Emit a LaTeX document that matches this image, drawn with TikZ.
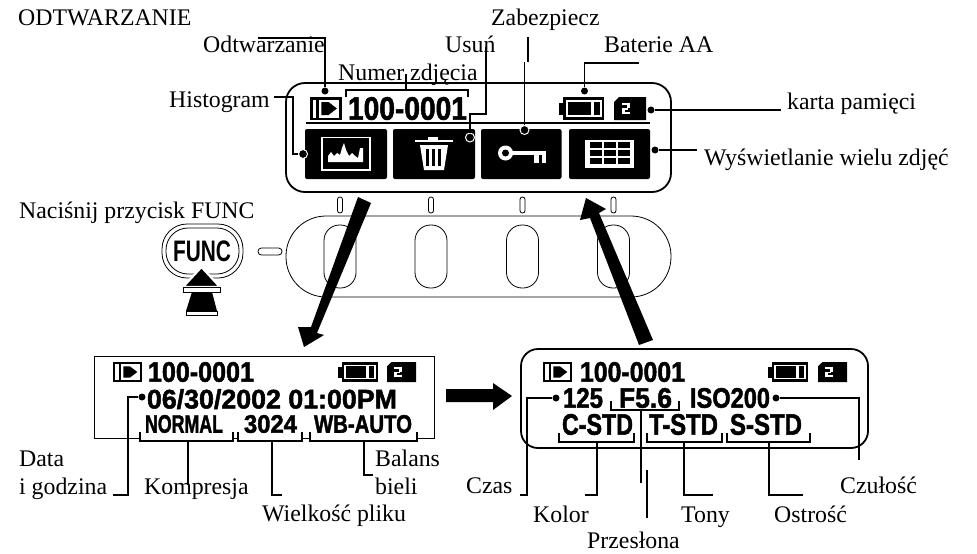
\documentclass[tikz,border=0pt]{standalone}
\usepackage{fontspec}
\usepackage{graphicx}
\setmainfont{Liberation Serif}
\newfontfamily\lcdf{Liberation Sans}[BoldFeatures={FakeBold=1.8}]
\newfontfamily\funcf{Liberation Sans}
\tikzset{
  lbl/.style={inner sep=0pt,anchor=base west,font=\fontsize{23.8}{26}\selectfont},
  dotb/.style={circle,fill=black,inner sep=0pt,minimum size=7pt},
  dotw/.style={circle,fill=black,draw=white,line width=1pt,inner sep=0pt,minimum size=9pt},
  conn/.style={line width=1.2pt,black},
  panel/.style={draw=black,line width=1.8pt},
  thinp/.style={draw=black,line width=0.8pt},
  bigarrow/.style={fill=black,draw=none},
  lcdn/.style={inner sep=0pt}
}
% name, x1, x2, y1, y2, text
\newcommand{\lcdtxt}[6]{%
  \pgfmathsetmacro{\lw}{#3-#2}\pgfmathsetmacro{\lh}{#5-#4}%
  \node[lcdn] (#1) at ({(#2+#3)/2},{(#4+#5)/2}) {\resizebox*{\lw pt}{\lh pt}{\lcdf\bfseries #6}};}
\newcommand{\playicon}[4]{%
  \begin{scope}[shift={(#1,#2)},xscale=#3/31,yscale=#4/23]
    \fill[black] (0,0) rectangle (31,23);
    \fill[white] (2.5,2.5) rectangle (28.5,20.5);
    \fill[black] (6,2) rectangle (9,21);
    \fill[black] (11,5) -- (18,5) -- (26,11.5) -- (18,18) -- (11,18) -- cycle;
  \end{scope}}
\newcommand{\batteryicon}[4]{%
  \begin{scope}[shift={(#1,#2)},xscale=#3/45,yscale=#4/23]
    \fill[black] (0,6) rectangle (5,18);
    \fill[black] (4,0) rectangle (45,23);
    \fill[white] (7,3) rectangle (43,20);
    \fill[black] (9,5) rectangle (32,18);
    \fill[black] (35,5) rectangle (41,18);
  \end{scope}}
\newcommand{\cardicon}[4]{%
  \begin{scope}[shift={(#1,#2)},xscale=#3/32,yscale=#4/23]
    \fill[black] (5,0) -- (32,0) -- (32,23) -- (0,23) -- (0,5) -- cycle;
    \fill[white] (8,6) rectangle (16,8);
    \fill[white] (13,8) rectangle (16,11);
    \fill[white] (8,11) rectangle (14,13);
    \fill[white] (8,13) rectangle (11,17);
    \fill[white] (11,15) rectangle (16,17);
  \end{scope}}
\begin{document}
\begin{tikzpicture}[x=1pt,y=-1pt]
\useasboundingbox (0,0) rectangle (977,554);
\fill[white] (0,0) rectangle (977,554);
% ---------- top display
\draw[panel,rounded corners=19pt] (286,83) rectangle (671,192);
\draw[line width=1.8pt] (306,123) -- (650,123);
\playicon{310}{97}{32}{23}
\lcdtxt{tn}{348}{467}{97}{120}{100-0001}
\batteryicon{559}{97}{45}{23}
\cardicon{614}{97}{32}{23}
\foreach \xa/\xb in {305/387,393/475,481/561.5,569/650}
  \fill[black,rounded corners=2pt] (\xa,129) rectangle (\xb,179);
% histogram icon
\draw[white,line width=1.3pt] (322,137.5) rectangle (370,170);
\fill[white] (328,162) -- (328,156) -- (331,152) -- (334,156) -- (337,153) -- (340,155) -- (342,148) -- (344,143) -- (346,150) -- (349,156) -- (352,153) -- (355,156) -- (358,158) -- (360,148) -- (363,148) -- (363,162) -- cycle;
% trash icon
\fill[white] (415,140) rectangle (453,142);
\fill[white] (428,137) rectangle (438,140);
\fill[white] (420,145) -- (448,145) -- (444,170) -- (424,170) -- cycle;
\foreach \x in {426,432,438} \fill[black] (\x,149) -- (\x+2.5,149) -- (\x+2.5,166) -- (\x,166) -- cycle;
% key icon
\fill[white] (505.5,153) circle (7.5);
\fill[black] (505.5,153) circle (3.5);
\fill[white] (510,151) rectangle (546,155);
\fill[white] (534,155) rectangle (539,163);
\fill[white] (542,155) rectangle (546,163);
% grid icon
\fill[white] (585,139.5) rectangle (634,168);
\foreach \xa in {590,604,618} \foreach \ya in {142,150,158}
  \fill[black] (\xa,\ya) rectangle (\xa+12,\ya+6);
% ---------- buttons
\draw[thinp,rounded corners=40pt] (286,216) rectangle (671,297);
\foreach \x in {340,431,522.5,613.5}{
  \draw[thinp,rounded corners=2.4pt] (\x-2.5,197) rectangle (\x+2.5,213);
  \draw[thinp,rounded corners=15.5pt] (\x-16,225) rectangle (\x+16,288);
}
\draw[thinp,rounded corners=3.4pt] (258,248) rectangle (282,255);
\node[thinp,rounded corners=25pt,minimum width=81pt,minimum height=54pt,inner sep=0pt] (fo) at (202.5,251) {};
\node[thinp,rounded corners=22pt,minimum width=73pt,minimum height=46pt,inner sep=0pt] (fi) at (202.5,251) {};
\node[inner sep=0pt] (ft) at (202,251.5) {\resizebox*{58pt}{21pt}{\funcf\bfseries FUNC}};
% FUNC arrow
\draw[white,line width=2.2pt,fill=black] (201.5,267) -- (220,287) -- (183,287) -- cycle;
\draw[thinp,fill=white] (183,287.5) rectangle (220,292);
\fill[black] (192,292) -- (212,292) -- (217,311) -- (186,311) -- cycle;
\draw[thinp,fill=white] (186,311) rectangle (217,315);
% ---------- big arrows
\fill[bigarrow] (358,197) -- (371,203) -- (317,333) -- (324,335) -- (304,347) -- (298,327) -- (311,327) -- cycle;
\fill[bigarrow] (586,198) -- (606,209) -- (599,213) -- (653,340) -- (639,345) -- (590,218) -- (580,220) -- cycle;
\fill[bigarrow] (446,389) -- (493,389) -- (493,383) -- (512,396) -- (493,410) -- (493,402) -- (446,402) -- cycle;
% ---------- left panel
\draw[thinp,line width=0.9pt] (94,438) -- (94,356) -- (434,356) -- (434,438) -- (417,438);
\draw[thinp,line width=0.9pt] (94,438) -- (140,438) (233,438) -- (238,438) (302,438) -- (310,438);
\playicon{113}{362}{29}{20}
\lcdtxt{ln}{148}{254}{362}{382}{100-0001}
\batteryicon{338}{362}{40}{20}
\cardicon{387}{362}{29}{20}
\lcdtxt{ld}{147}{397}{389}{409}{06/30/2002 01:00PM}
\lcdtxt{lq}{145}{223}{415}{433}{NORMAL}
\lcdtxt{ls}{244}{297}{415}{433}{3024}
\lcdtxt{lw}{314}{412}{415}{433}{WB-AUTO}
% ---------- right panel
\draw[panel,rounded corners=17pt] (521,349) rectangle (868,448);
\playicon{543}{362}{29}{20}
\lcdtxt{rn}{580}{685}{362}{382}{100-0001}
\batteryicon{768}{362}{40}{20}
\cardicon{818}{362}{29}{20}
\lcdtxt{rt}{563}{603}{388}{408}{125}
\lcdtxt{rf}{619}{672}{388}{408}{F5.6}
\lcdtxt{ri}{690}{770}{388}{408}{ISO200}
\lcdtxt{rc}{562}{633}{414}{435}{C-STD}
\lcdtxt{rg}{649}{718}{414}{435}{T-STD}
\lcdtxt{rs}{730}{802}{414}{435}{S-STD}
% ---------- text
\node[lbl] (title) at (18,25) {ODTWARZANIE};
\node[lbl] (t1) at (203,52) {Odtwarzanie};
\node[lbl] (t2) at (338,80) {Numer zdjęcia};
\node[lbl] (t3) at (445,52) {Usuń};
\node[lbl] (t4) at (491,25) {Zabezpiecz};
\node[lbl] (t5) at (604,52) {Baterie AA};
\node[lbl] (t6) at (787,109) {karta pamięci};
\node[lbl] (t7) at (704,165) {Wyświetlanie wielu zdjęć};
\node[lbl] (t8) at (169,107) {Histogram};
\node[lbl] (t9) at (19,218) {Naciśnij przycisk FUNC};
\node[lbl] (b1) at (19,466) {Data};
\node[lbl] (b2) at (19,494) {i godzina};
\node[lbl] (b3) at (144,494) {Kompresja};
\node[lbl] (b4) at (262,521) {Wielkość pliku};
\node[lbl] (b5) at (375,466) {Balans};
\node[lbl] (b6) at (375,494) {bieli};
\node[lbl] (c1) at (466,493) {Czas};
\node[lbl] (c2) at (533,522) {Kolor};
\node[lbl] (c3) at (681,522) {Tony};
\node[lbl] (c4) at (774,522) {Ostrość};
\node[lbl] (c5) at (840,493) {Czułość};
\node[lbl] (c6) at (587,548) {Przesłona};
% ---------- connectors, top
\node[dotb] (d1) at (325,91) {};
\coordinate (e1) at (258,38);
\draw[conn] (e1) -| (d1);
\coordinate (k1) at (346,97); \coordinate (k2) at (346,90); \coordinate (k3) at (468,90); \coordinate (k4) at (468,97);
\coordinate (k5) at (406,90); \coordinate (k6) at (406,74);
\draw[conn] (k1) -- (k2) -- (k3) -- (k4);
\draw[conn] (k5) -- (k6);
\node[dotw] (d3) at (470,137.5) {};
\coordinate (e3) at (486,47); \coordinate (m3) at (470,114);
\draw[conn] (e3) |- (m3) -- (d3);
\node[dotw] (d4) at (524.5,130) {};
\coordinate (e4a) at (528,37); \coordinate (e4b) at (528,62); \coordinate (e4c) at (524.5,62);
\draw[conn] (e4a) -- (e4b);
\draw[conn] (e4c) -- (d4);
\node[dotb] (d5) at (584.5,91) {};
\coordinate (e5) at (639,63);
\draw[conn] (e5) -| (d5);
\node[dotb] (d6) at (651,110) {};
\coordinate (e6) at (781,110);
\draw[conn] (e6) -- (d6);
\node[dotb] (d7) at (655,150) {};
\coordinate (e7) at (697,150);
\draw[conn] (e7) -- (d7);
\node[dotw] (d8) at (303,154) {};
\coordinate (e8) at (274,97); \coordinate (m8) at (293,97);
\draw[conn] (e8) -- (m8) |- (d8);
% ---------- connectors, left
\foreach \n/\a/\b in {a/140/233,b/238/302,c/310/417}{
  \coordinate (\n1) at (\a,432); \coordinate (\n2) at (\a,441);
  \coordinate (\n3) at (\b,441); \coordinate (\n4) at (\b,432);
  \draw[conn] (\n1) -- (\n2) -- (\n3) -- (\n4);
}
\coordinate (s1) at (188,441); \coordinate (s1e) at (188,485);
\draw[conn] (s1) -- (s1e);
\coordinate (s2) at (272,441); \coordinate (s2e) at (282,495);
\draw[conn] (s2) |- (s2e);
\coordinate (s3) at (364,441); \coordinate (s3e) at (373,475);
\draw[conn] (s3) |- (s3e);
\node[dotb] (d9) at (142,397) {};
\coordinate (m9) at (128,397); \coordinate (e9) at (113,495);
\draw[conn] (d9) -- (m9) |- (e9);
% ---------- connectors, right
\foreach \n/\a/\b in {f/559/634,g/647/722,h/727/810}{
  \coordinate (\n1) at (\a,433); \coordinate (\n2) at (\a,442);
  \coordinate (\n3) at (\b,442); \coordinate (\n4) at (\b,433);
  \draw[conn] (\n1) -- (\n2) -- (\n3) -- (\n4);
}
\coordinate (p1) at (611,401); \coordinate (p2) at (611,410);
\coordinate (p3) at (679,410); \coordinate (p4) at (679,401);
\draw[conn] (p1) -- (p2) -- (p3) -- (p4);
\coordinate (p5) at (641,410); \coordinate (p6) at (641,483);
\draw[conn] (p5) -- (p6);
\coordinate (p7) at (647,470); \coordinate (p8) at (647,518);
\draw[conn] (p7) -- (p8);
\node[dotb] (d10) at (556,398) {};
\coordinate (m10) at (527,398); \coordinate (e10) at (520,495);
\draw[conn] (d10) -- (m10) |- (e10);
\coordinate (q1) at (597,442); \coordinate (q1e) at (585,495);
\draw[conn] (q1) |- (q1e);
\coordinate (q2) at (684,442); \coordinate (q2e) at (713,495);
\draw[conn] (q2) |- (q2e);
\coordinate (q3) at (769,442); \coordinate (q3e) at (803,495);
\draw[conn] (q3) |- (q3e);
\node[dotb] (d11) at (776,398) {};
\coordinate (e11) at (859,460);
\draw[conn] (d11) -| (e11);
\end{tikzpicture}
\end{document}
